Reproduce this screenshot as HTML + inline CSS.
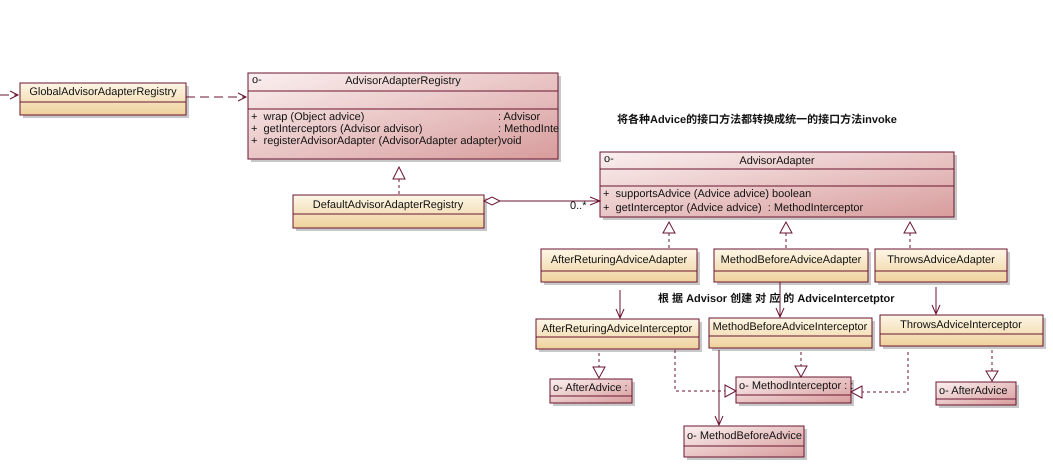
<!DOCTYPE html>
<html><head><meta charset="utf-8"><style>
html,body{margin:0;padding:0;background:#fff;width:1053px;height:471px;overflow:hidden}
svg text{font-family:"Liberation Sans","Noto Sans CJK SC",sans-serif;font-size:11px;fill:#111;white-space:pre}
</style></head><body>
<svg width="1053" height="471" viewBox="0 0 1053 471" xmlns="http://www.w3.org/2000/svg" xml:space="preserve" text-rendering="geometricPrecision">
<defs>
<linearGradient id="y" x1="0" y1="0" x2="0" y2="1"><stop offset="0" stop-color="#fdf6e6"/><stop offset="1" stop-color="#efd29c"/></linearGradient>
<linearGradient id="p" x1="0" y1="0" x2="1" y2="1"><stop offset="0" stop-color="#fbf0f0"/><stop offset="1" stop-color="#d89c9c"/></linearGradient>
</defs>
<g stroke="#6b1530" fill="none" stroke-width="1">
<g fill="#c8c8c8" stroke="none">
<rect x="23" y="86" width="166" height="32"/><rect x="251" y="76" width="310" height="86"/>
<rect x="296" y="198" width="191" height="33"/><rect x="603" y="155" width="354" height="65"/>
<rect x="544" y="252" width="156" height="33"/><rect x="717" y="252" width="154" height="33"/><rect x="878" y="252" width="132" height="33"/>
<rect x="539" y="322" width="163" height="30"/><rect x="712" y="321" width="163" height="30"/><rect x="883" y="318" width="163" height="31"/>
<rect x="553" y="382" width="82" height="24"/><rect x="739" y="380" width="115" height="26"/><rect x="939" y="385" width="80" height="23"/><rect x="687" y="429" width="120" height="31"/>
</g>
<g fill="url(#y)">
<rect x="20" y="83" width="166" height="32"/><rect x="293" y="195" width="191" height="33"/>
<rect x="541" y="249" width="156" height="33"/><rect x="714" y="249" width="154" height="33"/><rect x="875" y="249" width="132" height="33"/>
<rect x="536" y="319" width="163" height="30"/><rect x="709" y="318" width="163" height="30"/><rect x="880" y="315" width="163" height="31"/>
</g>
<line x1="20" y1="102" x2="186" y2="102"/><line x1="293" y1="214" x2="484" y2="214"/>
<line x1="541" y1="271" x2="697" y2="271"/><line x1="714" y1="271" x2="868" y2="271"/><line x1="875" y1="271" x2="1007" y2="271"/>
<line x1="536" y1="337" x2="699" y2="337"/><line x1="709" y1="336" x2="872" y2="336"/><line x1="880" y1="334" x2="1043" y2="334"/>
<g fill="url(#p)">
<rect x="248" y="73" width="310" height="86"/><rect x="600" y="152" width="354" height="65"/>
<rect x="550" y="379" width="82" height="24"/><rect x="736" y="377" width="115" height="26"/><rect x="936" y="382" width="80" height="23"/><rect x="684" y="426" width="120" height="31"/>
</g>
<line x1="248" y1="91" x2="558" y2="91"/><line x1="248" y1="109" x2="558" y2="109"/>
<line x1="600" y1="169" x2="954" y2="169"/><line x1="600" y1="186" x2="954" y2="186"/>
<line x1="550" y1="396" x2="632" y2="396"/><line x1="736" y1="395" x2="851" y2="395"/><line x1="936" y1="399" x2="1016" y2="399"/><line x1="684" y1="446" x2="804" y2="446"/>
<g stroke-dasharray="9,5">
<line x1="0" y1="95" x2="18" y2="95"/><line x1="186" y1="97" x2="246" y2="97"/>
</g>
<polyline points="10,91 18,95 10,99"/><polyline points="238,93 246,97 238,101"/>
<g stroke-dasharray="3,3">
<line x1="399" y1="179" x2="399" y2="195"/>
<line x1="669" y1="233" x2="669" y2="249"/><line x1="786" y1="233" x2="786" y2="249"/><line x1="910" y1="233" x2="910" y2="249"/>
<line x1="599" y1="353" x2="599" y2="368"/><line x1="801" y1="352" x2="801" y2="367"/><line x1="992" y1="350" x2="992" y2="372"/>
<polyline points="675,350 675,391 728,391"/><polyline points="908,352 908,392 862,392"/>
</g>
<g fill="#fff">
<polygon points="399,167 393,179 405,179"/>
<polygon points="669,222 663,233 675,233"/><polygon points="786,222 780,233 792,233"/><polygon points="910,222 904,233 916,233"/>
<polygon points="599,378 593,367 605,367"/><polygon points="801,377 795,366 807,366"/><polygon points="992,381 986,371 998,371"/>
<polygon points="736,391 725,385 725,397"/><polygon points="851,392 862,386 862,398"/>
<polygon points="484,201 492,197 500,201 492,205"/>
</g>
<line x1="500" y1="201" x2="600" y2="201"/><polyline points="590,197 600,201 590,205"/>
<line x1="620" y1="290" x2="620" y2="318"/><polyline points="616,309 620,318 624,309"/>
<line x1="780" y1="282" x2="780" y2="317"/><polyline points="776,308 780,317 784,308"/>
<line x1="936" y1="287" x2="936" y2="314"/><polyline points="932,305 936,314 940,305"/>
<line x1="719" y1="350" x2="719" y2="425"/><polyline points="715,416 719,425 723,416"/>
</g>
<text x="103" y="95" text-anchor="middle">GlobalAdvisorAdapterRegistry</text>
<text x="403" y="84" text-anchor="middle">AdvisorAdapterRegistry</text>
<text x="252" y="83" font-size="9" fill="#224">o-</text>
<text x="251" y="120">+  wrap (Object advice)</text><text x="498" y="120">: Advisor</text>
<text x="251" y="132">+  getInterceptors (Advisor advisor)</text><text x="498" y="132">: MethodInte</text>
<text x="251" y="144">+  registerAdvisorAdapter (AdvisorAdapter adapter)void</text>
<text x="388" y="208" text-anchor="middle">DefaultAdvisorAdapterRegistry</text>
<text x="604" y="162" font-size="9" fill="#224">o-</text>
<text x="777" y="164" text-anchor="middle">AdvisorAdapter</text>
<text x="603" y="197">+  supportsAdvice (Advice advice) boolean</text>
<text x="603" y="211">+  getInterceptor (Advice advice)  : MethodInterceptor</text>
<text x="570" y="209" font-size="7">0..*</text>
<text x="619" y="263" text-anchor="middle">AfterReturingAdviceAdapter</text>
<text x="791" y="263" text-anchor="middle">MethodBeforeAdviceAdapter</text>
<text x="941" y="263" text-anchor="middle">ThrowsAdviceAdapter</text>
<text x="617" y="332" text-anchor="middle">AfterReturingAdviceInterceptor</text>
<text x="790" y="330" text-anchor="middle">MethodBeforeAdviceInterceptor</text>
<text x="961" y="328" text-anchor="middle">ThrowsAdviceInterceptor</text>
<text x="553" y="391">o- AfterAdvice :</text>
<text x="739" y="389">o- MethodInterceptor : :</text>
<text x="939" y="394">o- AfterAdvice</text>
<text x="687" y="439">o- MethodBeforeAdvice</text>
<text x="617" y="123" font-weight="bold" font-size="12">将各种Advice的接口方法都转换成统一的接口方法invoke</text>
<text x="658" y="302" font-weight="bold" font-size="11.5">根 据 Advisor 创建 对 应 的 AdviceIntercetptor</text>
</svg>
</body></html>
